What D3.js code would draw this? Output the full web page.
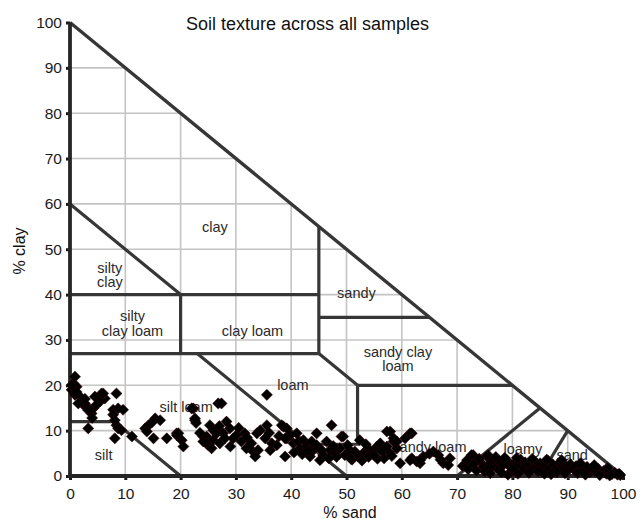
<!DOCTYPE html>
<html>
<head>
<meta charset="utf-8">
<script src="https://cdn.jsdelivr.net/npm/d3@7"></script>
<style>
  body { margin: 0; background: #fff; }
  svg { font-family: "Liberation Sans", Arial, sans-serif; }
</style>
</head>
<body>
<script>
// soil samples: % sand and % clay
var sand = [
  0.9,0.6,0.3,1.2,0.9,1.8,2.1,2.4,1.5,3,3.6,3.9,4.2,4.5,5.7,6.3,5.4,4.8,8.4,3.3,7.8,8.7,9.6,7.8,8.1,8.4,8.7,9.3,8.1,11.2,
  13.6,14.2,15.4,16.3,15.1,17.5,19.3,13.9,0.3,2.7,6,1.2,2.7,3.3,4,14.8,
  20.2,20.5,19.3,22.3,22.6,22.8,26.8,25.3,24.7,25,25.9,26.5,35.6,27.4,22,22.6,19.6,24.1,24.7,25.9,25.6,27.1,27.7,28.3,
  28.9,28,29.5,30.1,31,31.6,31.9,32.8,33.1,34,33.5,33.8,34.4,35.3,35.6,36.2,36.5,37.4,38.6,38.9,39.2,24.1,26.5,29,30.5,32,27,23.5,36,37.8,
  47.3,49.1,52.4,57.3,38.3,39.2,39.8,41,38.9,40.4,41.3,42.2,41.6,42.8,43.7,44,44.6,45.5,45.8,46.4,47,47.9,48.8,49.7,50.6,
  51.5,52.1,53,53.9,54.8,55.5,56.1,56.4,57.3,57.9,58.5,59.1,45.2,43.4,44.6,49.4,61.5,59.7,63.3,40.5,42,54,55.6,50.2,53.5,
  46.8,48.2,51,52.8,55,56.8,58.2,43,47.6,50.8,
  61.8,57.9,58.5,59.1,60.6,61.8,62.7,63.9,65.7,66.6,67.5,68.4,68.7,61.5,63.3,65,67,
  72.9,74.1,75.4,75.9,72.6,75.6,79,82.6,79.2,88.2,99.5,
  71,71.8,72,73,73.5,74,74.8,75,76.5,76.8,77.5,77.8,78.3,78.6,79.6,80.2,80.5,81,81.5,82,82.3,83,83.4,84,84.5,85,85.3,86,86.4,86.8,
  87.3,87.8,88.6,89,89.5,90,90.5,91,91.5,92,92.5,93,93.5,94,94.5,95,95.5,96,96.5,97,97.5,98,98.5,99,99.3,76,80,84.6,88,91.8,
  76,78,81,83,85.8,87,89.5,93.2,95.8,97.6,77,80.8,83.6,86.2,88.9,92.3,94.8,97.2
];
var clay = [
  21.9,20.4,19,19.7,17.9,17.5,16.4,15.7,16,15.3,14.6,13.8,14.9,17.5,18.2,17.1,16.4,15.7,18.2,10.5,14.6,14.9,14.6,13.5,12.3,11.2,10.5,10.1,8.3,8.7,
  10.5,11.2,12.7,12.3,8.3,8.3,9.4,9.8,20,16,18.2,18.5,17,14.5,12.8,11.8,
  7.9,6.5,9,14.9,12.3,11.7,16,11.2,8.7,6.8,7.9,10.1,17.9,16,14.9,12.7,9.4,8.7,7.2,10.1,6.1,7.2,9.4,12,
  10.5,8.3,8.3,9,7.6,9.4,6.1,7.2,5.4,5.7,4.3,9.4,10.1,8.3,11.2,5.7,7.2,6.8,10.9,4.3,8.3,7.6,9.4,6.5,10.6,8.5,11,9.5,9.5,8.8,
  11.2,8.7,7.9,9.8,11.2,10.5,9,9.4,8.3,7.2,7.6,7.9,6.1,6.5,7.6,5.7,6.8,5.7,4.6,7.6,5.7,5,6.1,4.6,5.7,
  5.4,4.3,5,6.1,5.4,6.5,7.2,5.4,6.5,5,7.6,6.1,3.5,4.3,9.4,8.7,9.4,2.8,2.8,5.2,4.8,4.2,3.8,6.8,7,
  3.9,4.2,3.6,3.4,4.6,3.9,4.4,5.6,6.6,3.8,
  9.4,9.8,8.3,7.6,8.3,3.9,3.2,4.3,5.4,4.6,2.8,2.4,3.9,3.5,3.5,4.9,3.6,
  4.6,3.2,4.3,2.8,4.6,4.6,3.5,2.4,0.3,2.4,0.2,
  2.2,3.5,1.5,2.6,1.2,3.8,2,1,3.6,2.2,1.4,3,2.4,4,2,1.2,3,2.2,3.6,1.6,3,2.6,1.4,3.2,2,2.8,1.2,2.4,3.4,1.6,
  2.6,1.4,3,1.8,2.4,1.2,2.6,1.6,2.2,1,1.8,1.4,2,0.8,1.4,1,1.6,0.6,1.1,0.5,0.9,0.4,0.7,0.3,0.5,1.8,1.6,1,0.8,0.6,
  0.6,0.8,0.5,0.7,0.5,0.4,0.6,0.3,0.2,0.1,4.2,4,3.8,3.6,3.5,2.8,2.4,1.8
];

var ticks = [0,10,20,30,40,50,60,70,80,90,100];
var gridVals = [10,20,30,40,50,60,70,80,90];

// texture class boundaries, as [sand, clay] corners
var boundaries = [
  [[0,60],[20,40]],
  [[0,40],[45,40]],
  [[45,55],[45,27]],
  [[20,40],[20,27]],
  [[0,27],[45,27]],
  [[45,35],[65,35]],
  [[45,27],[52,20]],
  [[52,20],[80,20]],
  [[52,20],[52,7],[43,7]],
  [[23,27],[50,0]],
  [[0,12],[8,12],[20,0]],
  [[70,0],[85,15]],
  [[85,0],[90,10]]
];

// class names, centred at [sand, clay]
var classNames = [
  {t:["clay"], s:26.2, c:55},
  {t:["silty","clay"], s:7.2, c:44.3},
  {t:["silty","clay loam"], s:11.3, c:33.6},
  {t:["clay loam"], s:33, c:32},
  {t:["sandy"], s:51.8, c:40.4},
  {t:["sandy clay","loam"], s:59.3, c:25.8},
  {t:["loam"], s:40.3, c:20.1},
  {t:["silt loam"], s:21, c:15.3},
  {t:["silt"], s:6.1, c:4.6},
  {t:["sandy loam"], s:65, c:6.5},
  {t:["loamy","sand"], s:81.9, c:4.3},
  {t:["sand"], s:90.8, c:4.6}
];

var W = 644, H = 524;
var x = d3.scaleLinear().domain([0,100]).range([70,623]);
var y = d3.scaleLinear().domain([0,100]).range([476,22.5]);

var svg = d3.select("body").append("svg")
    .attr("width", W)
    .attr("height", H);

// clip to the triangle so the grid stops at the hypotenuse
svg.append("clipPath").attr("id","tri")
  .append("path")
  .attr("d", d3.line()([[x(0),y(0)],[x(0),y(100)],[x(100),y(0)]]) + "Z");

var grid = svg.append("g").attr("clip-path","url(#tri)")
    .attr("stroke","#c4c4c4").attr("stroke-width",1.6);
grid.selectAll("line.v").data(gridVals).enter().append("line")
    .attr("x1", d => x(d)).attr("x2", d => x(d))
    .attr("y1", y(0)).attr("y2", y(100));
grid.selectAll("line.h").data(gridVals).enter().append("line")
    .attr("x1", x(0)).attr("x2", x(100))
    .attr("y1", d => y(d)).attr("y2", d => y(d));

// class boundaries
var line = d3.line().x(d => x(d[0])).y(d => y(d[1]));
svg.append("g").selectAll("path").data(boundaries).enter().append("path")
    .attr("d", line)
    .attr("fill","none")
    .attr("stroke","#363636")
    .attr("stroke-width",3.2);

// hypotenuse
svg.append("path")
    .attr("d", line([[0,100],[100,0]]))
    .attr("stroke","#363636").attr("stroke-width",3.4);

// class labels
var lab = svg.append("g").attr("fill","#2a2a2a").style("font-size","14.5px").attr("text-anchor","middle");
classNames.forEach(function(n){
  var t = lab.append("text").attr("x", x(n.s)).attr("y", y(n.c));
  var off = -(n.t.length - 1) * 0.5;
  n.t.forEach(function(s, i){
    t.append("tspan").attr("x", x(n.s))
      .attr("dy", i == 0 ? (off*1.0 + 0.35) + "em" : "1em")
      .text(s);
  });
});

// axes
var yAxis = svg.append("g").attr("transform","translate(" + x(0) + ",0)")
    .call(d3.axisLeft(y).tickValues(ticks).tickSize(4).tickPadding(4));
var xAxis = svg.append("g").attr("transform","translate(0," + y(0) + ")")
    .call(d3.axisBottom(x).tickValues(ticks).tickSize(4).tickPadding(7.5));
[yAxis, xAxis].forEach(function(a){
  a.select(".domain").remove();
  a.selectAll(".tick line").attr("stroke","#1a1a1a").attr("stroke-width",3);
  a.selectAll(".tick text").attr("fill","#1a1a1a")
    .style("font-size","15.5px").style("font-family","'Liberation Sans', Arial, sans-serif");
});
svg.append("path")
    .attr("d", line([[0,100],[0,0],[100,0]]))
    .attr("fill","none")
    .attr("stroke","#262626").attr("stroke-width",3.8);

// samples
var pts = sand.map((s, i) => [s, clay[i]]);
svg.append("g").selectAll("path").data(pts).enter().append("path")
    .attr("d", d3.symbol().type(d3.symbolSquare).size(62))
    .attr("transform", d => "translate(" + x(d[0]) + "," + y(d[1]) + ") rotate(45)")
    .attr("fill","#000")
    .attr("stroke","#3a0505")
    .attr("stroke-width",0.5);

// titles
svg.append("text").attr("x",307.5).attr("y",30)
    .attr("text-anchor","middle").style("font-size","18px").attr("fill","#111")
    .text("Soil texture across all samples");
svg.append("text").attr("x",350).attr("y",518)
    .attr("text-anchor","middle").style("font-size","16px").attr("fill","#111")
    .text("% sand");
svg.append("text").attr("transform","translate(25,251) rotate(-90)")
    .attr("text-anchor","middle").style("font-size","16px").attr("fill","#111")
    .text("% clay");
</script>
</body>
</html>
